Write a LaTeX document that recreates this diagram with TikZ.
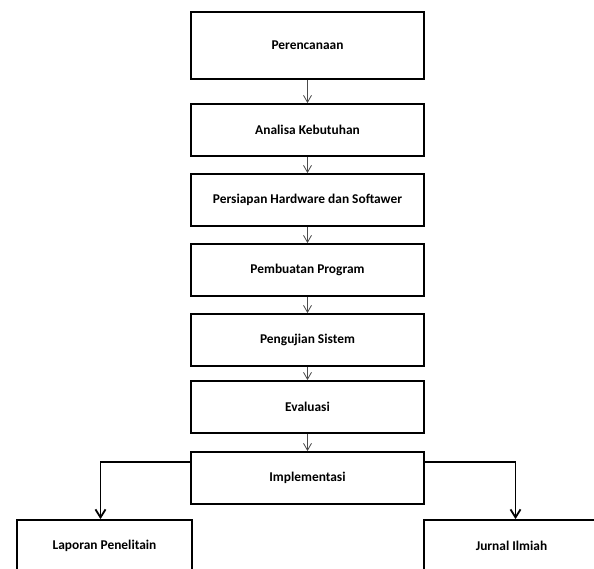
\documentclass[tikz,border=0pt]{standalone}
\usepackage{fontspec}
\setmainfont{Carlito}
\usetikzlibrary{arrows.meta, positioning}

\begin{document}
\begin{tikzpicture}[
    x=1pt, y=-1pt,
    node distance=16.2pt,
    every node/.style={
        draw,
        rectangle,
        line width=1.8pt,
        align=center,
        minimum width=233pt,
        minimum height=52pt,
        font=\fontsize{13.4}{16}\selectfont\bfseries
    },
    arrow/.style={-{Straight Barb[length=7pt, width=8pt]}, line width=0.8pt, draw=black!70},
    bigarrow/.style={-{Straight Barb[length=8pt, width=10pt]}, line width=1.8pt},
    outbox/.style={minimum width=175pt}
]
\useasboundingbox (0,0) rectangle (594,569);
\clip (0,0) rectangle (594,569);

% === Main sequence ===
\node[minimum height=67pt] (rencana) at (307.5,45.5) {Perencanaan};
\node[below=23.2pt of rencana] (analisa) {Analisa Kebutuhan};
\node[below=of analisa] (persiapan) {Persiapan Hardware dan Softawer};
\node[below=of persiapan] (pembuatan) {Pembuatan Program};
\node[below=of pembuatan] (pengujian) {Pengujian Sistem};
\node[below=13.2pt of pengujian] (evaluasi) {Evaluasi};
\node[below=17.2pt of evaluasi] (impl) {Implementasi};

% === Outputs ===
\node[outbox, below=14.2pt of impl, xshift=-203pt] (laporan) {Laporan Penelitain};
\node[outbox, below=14.2pt of impl, xshift=204pt] (jurnal) {Jurnal Ilmiah};

% ============ ARROWS ============
\draw[arrow] (rencana) -- (analisa);
\draw[arrow] (analisa) -- (persiapan);
\draw[arrow] (persiapan) -- (pembuatan);
\draw[arrow] (pembuatan) -- (pengujian);
\draw[arrow] (pengujian) -- (evaluasi);
\draw[arrow] (evaluasi) -- (impl);

\draw[bigarrow] ([yshift=-11pt]impl.north west) -| ([xshift=-4pt]laporan.north);
\draw[bigarrow] ([yshift=-11pt]impl.north east) -| ([xshift=4pt]jurnal.north);

\end{tikzpicture}
\end{document}
